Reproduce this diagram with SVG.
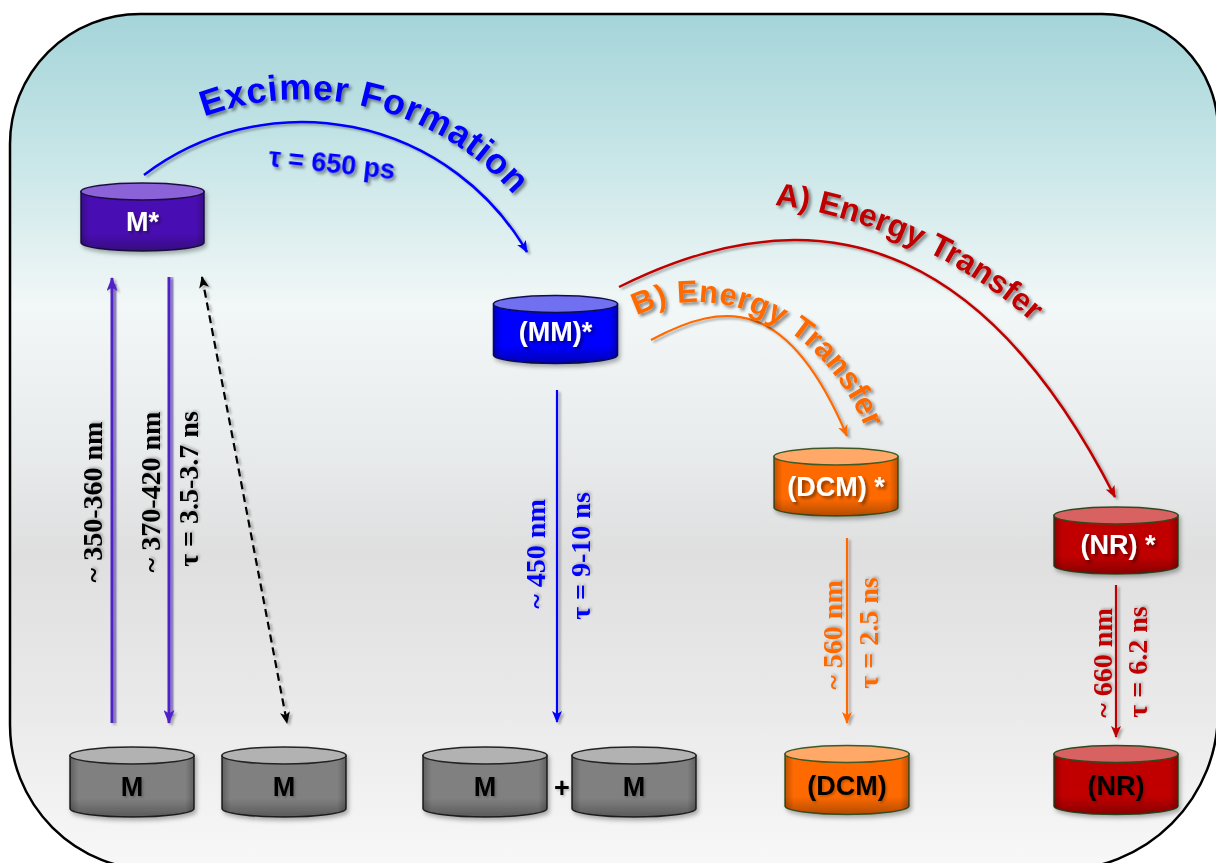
<svg xmlns="http://www.w3.org/2000/svg" width="1216" height="863" viewBox="0 0 1216 863">
<defs>
<style>
.frame{fill:url(#bg);stroke:#000;stroke-width:2.5}
.cb{stroke-width:1.5}
.shade{fill:url(#shadeV);stroke:none}
.shadeh{fill:url(#shadeH);stroke:none}
.lw{font-family:"Liberation Sans",Arial,sans-serif;font-weight:bold;font-size:27px;fill:#fff;text-anchor:middle;dominant-baseline:central;filter:url(#tsh)}
.lk{font-family:"Liberation Sans",Arial,sans-serif;font-weight:bold;font-size:27px;fill:#000;text-anchor:middle;dominant-baseline:central;filter:url(#tsh2)}
.vl{font-family:"Liberation Serif","Times New Roman",serif;font-weight:bold;font-size:28px;text-anchor:middle;dominant-baseline:central;filter:url(#tsh2)}
.arc{font-family:"Liberation Sans",Arial,sans-serif;font-weight:bold;filter:url(#tsh)}
.ln{fill:none;filter:url(#lsh)}
.mstar-b{fill:#4a0db4;stroke:#1d1040}
.mstar-t{fill:#8c62d8;stroke:#1d1040;stroke-width:1.5}
.mm-b{fill:#0000ff;stroke:#101050}
.mm-t{fill:#7070f0;stroke:#101050;stroke-width:1.5}
.dcm-b{fill:#ff6a00;stroke:#3c5a28}
.dcm-t{fill:#ffa868;stroke:#3c5a28;stroke-width:1.5}
.nr-b{fill:#c00000;stroke:#2f4a20}
.nr-t{fill:#d86262;stroke:#2f4a20;stroke-width:1.5}
.m-b{fill:#808080;stroke:#222}
.m-t{fill:#b2b2b2;stroke:#222;stroke-width:1.5}
</style>
<linearGradient id="bg" x1="0" y1="0" x2="0" y2="1">
<stop offset="0" stop-color="#a4d4d9"/>
<stop offset="0.15" stop-color="#c4e4e6"/>
<stop offset="0.34" stop-color="#f2f7f7"/>
<stop offset="0.5" stop-color="#e9eced"/>
<stop offset="0.63" stop-color="#dfdfdf"/>
<stop offset="0.8" stop-color="#e9e9e9"/>
<stop offset="1" stop-color="#f8f8f8"/>
</linearGradient>
<linearGradient id="shadeV" x1="0" y1="0" x2="0" y2="1">
<stop offset="0" stop-color="#000" stop-opacity="0"/>
<stop offset="0.7" stop-color="#000" stop-opacity="0"/>
<stop offset="1" stop-color="#000" stop-opacity="0.3"/>
</linearGradient>
<linearGradient id="shadeH" x1="0" y1="0" x2="1" y2="0">
<stop offset="0" stop-color="#000" stop-opacity="0.25"/>
<stop offset="0.07" stop-color="#000" stop-opacity="0"/>
<stop offset="0.93" stop-color="#000" stop-opacity="0"/>
<stop offset="1" stop-color="#000" stop-opacity="0.25"/>
</linearGradient>
<filter id="tsh" x="-20%" y="-20%" width="140%" height="140%">
<feDropShadow dx="2.5" dy="2.5" stdDeviation="1.5" flood-color="#000" flood-opacity="0.45"/>
</filter>
<filter id="tsh2" x="-20%" y="-20%" width="140%" height="140%">
<feDropShadow dx="1.5" dy="1.5" stdDeviation="1.2" flood-color="#000" flood-opacity="0.25"/>
</filter>
<filter id="lsh" filterUnits="userSpaceOnUse" x="-100" y="-100" width="1420" height="1070">
<feDropShadow dx="2.5" dy="2" stdDeviation="1.2" flood-color="#000" flood-opacity="0.3"/>
</filter>
<filter id="csh" x="-20%" y="-20%" width="140%" height="140%">
<feDropShadow dx="2" dy="3" stdDeviation="2" flood-color="#000" flood-opacity="0.3"/>
</filter>
<marker id="ah-purple" viewBox="0 0 14 11" refX="13" refY="5.5" markerWidth="14" markerHeight="11" orient="auto" markerUnits="userSpaceOnUse"><path d="M0,0 L14,5.5 L0,11 L3.5,5.5 Z" fill="#5020c8"/></marker>
<marker id="ah-black" viewBox="0 0 12 10" refX="11" refY="5" markerWidth="12" markerHeight="10" orient="auto-start-reverse" markerUnits="userSpaceOnUse"><path d="M0,0 L12,5 L0,10 L3,5 Z" fill="#000"/></marker>
<marker id="ah-blue" viewBox="0 0 12 10" refX="11" refY="5" markerWidth="12" markerHeight="10" orient="auto" markerUnits="userSpaceOnUse"><path d="M0,0 L12,5 L0,10 L3,5 Z" fill="#0000ff"/></marker>
<marker id="ah-orange" viewBox="0 0 12 10" refX="11" refY="5" markerWidth="12" markerHeight="10" orient="auto" markerUnits="userSpaceOnUse"><path d="M0,0 L12,5 L0,10 L3,5 Z" fill="#ff6a00"/></marker>
<marker id="ah-red" viewBox="0 0 12 10" refX="11" refY="5" markerWidth="12" markerHeight="10" orient="auto" markerUnits="userSpaceOnUse"><path d="M0,0 L12,5 L0,10 L3,5 Z" fill="#c00000"/></marker>
<path id="tp-exc" d="M182,125.9 A283,283 0 0 1 558.1,262.8"/>
<path id="tp-a" d="M740,206 C800,196 960,240 1060,350"/>
<path id="tp-b" d="M630,320 C690,280 820,300 872,445"/>
</defs>

<path class="frame" d="M140,14 H1102 A116,116 0 0 1 1218,130 V712 A158,158 0 0 1 1060,870 H155 A145,145 0 0 1 10,725 V144 A130,130 0 0 1 140,14 Z"/>

<g id="connectors">
<line x1="115" y1="723" x2="115" y2="284" stroke="#b0a4ea" stroke-width="3"/>
<line class="ln" x1="112" y1="723" x2="112" y2="278" stroke="#5020c8" stroke-width="3" marker-end="url(#ah-purple)"/>
<line x1="172" y1="277" x2="172" y2="716" stroke="#b0a4ea" stroke-width="3"/>
<line class="ln" x1="169" y1="277" x2="169" y2="723" stroke="#5020c8" stroke-width="3" marker-end="url(#ah-purple)"/>
<line class="ln" x1="202" y1="277" x2="287" y2="723" stroke="#000" stroke-width="2.2" stroke-dasharray="8,5" marker-start="url(#ah-black)" marker-end="url(#ah-black)"/>
<path class="ln" d="M144,175 A260.5,260.5 0 0 1 527,252" stroke="#0000ff" stroke-width="2.5" marker-end="url(#ah-blue)"/>
<path class="ln" d="M619,287 C839,177 997,265.6 1115,497" stroke="#c00000" stroke-width="2.5" marker-end="url(#ah-red)"/>
<path class="ln" d="M651,340 C726,299.5 788.5,298 847,436" stroke="#ff6a00" stroke-width="2.2" marker-end="url(#ah-orange)"/>
<line class="ln" x1="557" y1="390" x2="557" y2="722" stroke="#0000ff" stroke-width="2.2" marker-end="url(#ah-blue)"/>
<line class="ln" x1="847" y1="538" x2="847" y2="723" stroke="#ff6a00" stroke-width="2.2" marker-end="url(#ah-orange)"/>
<line class="ln" x1="1116" y1="585" x2="1116" y2="737" stroke="#c00000" stroke-width="2.2" marker-end="url(#ah-red)"/>
</g>

<g id="arc-labels">
<text class="arc" font-size="36" fill="#0000ff" letter-spacing="0.8"><textPath href="#tp-exc" startOffset="24">Excimer Formation</textPath></text>
<text class="arc" font-size="27" fill="#0000ff" transform="rotate(6 268 166)" x="268" y="166">τ = 650 ps</text>
<text class="arc" font-size="32" fill="#c00000"><textPath href="#tp-a" startOffset="35">A) Energy Transfer</textPath></text>
<text class="arc" font-size="31" fill="#ff6a00" letter-spacing="0.5"><textPath href="#tp-b" startOffset="8">B) Energy Transfer</textPath></text>
</g>

<g id="line-labels">
<text class="vl" fill="#000" transform="translate(92 502) rotate(-90)">~ 350-360 nm</text>
<text class="vl" fill="#000" transform="translate(150 492) rotate(-90)">~ 370-420 nm</text>
<text class="vl" fill="#000" transform="translate(188 489) rotate(-90)">τ = 3.5-3.7 ns</text>
<text class="vl" fill="#0000ff" transform="translate(535 554) rotate(-90)">~ 450 nm</text>
<text class="vl" fill="#0000ff" transform="translate(580 556) rotate(-90)">τ = 9-10 ns</text>
<text class="vl" fill="#ff6a00" transform="translate(832 635) rotate(-90)">~ 560 nm</text>
<text class="vl" fill="#ff6a00" transform="translate(868 633) rotate(-90)">τ = 2.5 ns</text>
<text class="vl" fill="#c00000" transform="translate(1102 663) rotate(-90)">~ 660 nm</text>
<text class="vl" fill="#c00000" transform="translate(1137 662) rotate(-90)">τ = 6.2 ns</text>
</g>

<g id="node-mstar" transform="translate(142.5 191.5)" filter="url(#csh)">
<path class="cb mstar-b" d="M-61.5,0 V51 A61.5,8.5 0 0 0 61.5,51 V0 Z"/>
<path class="shade" d="M-61.5,0 V51 A61.5,8.5 0 0 0 61.5,51 V0 Z"/>
<path class="shadeh" d="M-61.5,0 V51 A61.5,8.5 0 0 0 61.5,51 V0 Z"/>
<ellipse class="mstar-t" cx="0" cy="0" rx="61.5" ry="8.5"/>
<text class="lw" x="0" y="30.5">M*</text>
</g>

<g id="node-mmstar" transform="translate(555.5 304)" filter="url(#csh)">
<path class="cb mm-b" d="M-62,0 V51 A62,8.5 0 0 0 62,51 V0 Z"/>
<path class="shade" d="M-62,0 V51 A62,8.5 0 0 0 62,51 V0 Z"/>
<path class="shadeh" d="M-62,0 V51 A62,8.5 0 0 0 62,51 V0 Z"/>
<ellipse class="mm-t" cx="0" cy="0" rx="62" ry="8.5"/>
<text class="lw" x="0" y="28">(MM)*</text>
</g>

<g id="node-dcmstar" transform="translate(836 456.5)" filter="url(#csh)">
<path class="cb dcm-b" d="M-62,0 V51 A62,8.5 0 0 0 62,51 V0 Z"/>
<path class="shade" d="M-62,0 V51 A62,8.5 0 0 0 62,51 V0 Z"/>
<path class="shadeh" d="M-62,0 V51 A62,8.5 0 0 0 62,51 V0 Z"/>
<ellipse class="dcm-t" cx="0" cy="0" rx="62" ry="8.5"/>
<text class="lw" x="0" y="30.5">(DCM) *</text>
</g>

<g id="node-nrstar" transform="translate(1116 515.5)" filter="url(#csh)">
<path class="cb nr-b" d="M-62,0 V50 A62,8.5 0 0 0 62,50 V0 Z"/>
<path class="shade" d="M-62,0 V50 A62,8.5 0 0 0 62,50 V0 Z"/>
<path class="shadeh" d="M-62,0 V50 A62,8.5 0 0 0 62,50 V0 Z"/>
<ellipse class="nr-t" cx="0" cy="0" rx="62" ry="8.5"/>
<text class="lw" x="2" y="29.5">(NR) *</text>
</g>

<g id="node-m1" transform="translate(132 755.5)" filter="url(#csh)">
<path class="cb m-b" d="M-62,0 V53 A62,8.5 0 0 0 62,53 V0 Z"/>
<path class="shade" d="M-62,0 V53 A62,8.5 0 0 0 62,53 V0 Z"/>
<path class="shadeh" d="M-62,0 V53 A62,8.5 0 0 0 62,53 V0 Z"/>
<ellipse class="m-t" cx="0" cy="0" rx="62" ry="8.5"/>
<text class="lk" x="0" y="31.5" font-size="26">M</text>
</g>

<g id="node-m2" transform="translate(284 755.5)" filter="url(#csh)">
<path class="cb m-b" d="M-62,0 V53 A62,8.5 0 0 0 62,53 V0 Z"/>
<path class="shade" d="M-62,0 V53 A62,8.5 0 0 0 62,53 V0 Z"/>
<path class="shadeh" d="M-62,0 V53 A62,8.5 0 0 0 62,53 V0 Z"/>
<ellipse class="m-t" cx="0" cy="0" rx="62" ry="8.5"/>
<text class="lk" x="0" y="31.5" font-size="26">M</text>
</g>

<g id="node-m3" transform="translate(485 755.5)" filter="url(#csh)">
<path class="cb m-b" d="M-62,0 V53 A62,8.5 0 0 0 62,53 V0 Z"/>
<path class="shade" d="M-62,0 V53 A62,8.5 0 0 0 62,53 V0 Z"/>
<path class="shadeh" d="M-62,0 V53 A62,8.5 0 0 0 62,53 V0 Z"/>
<ellipse class="m-t" cx="0" cy="0" rx="62" ry="8.5"/>
<text class="lk" x="0" y="31.5" font-size="26">M</text>
</g>

<g id="plus">
<text class="lk" x="562" y="788" font-size="26">+</text>
</g>

<g id="node-m4" transform="translate(634 755.5)" filter="url(#csh)">
<path class="cb m-b" d="M-62,0 V53 A62,8.5 0 0 0 62,53 V0 Z"/>
<path class="shade" d="M-62,0 V53 A62,8.5 0 0 0 62,53 V0 Z"/>
<path class="shadeh" d="M-62,0 V53 A62,8.5 0 0 0 62,53 V0 Z"/>
<ellipse class="m-t" cx="0" cy="0" rx="62" ry="8.5"/>
<text class="lk" x="0" y="31.5" font-size="26">M</text>
</g>

<g id="node-dcm" transform="translate(847 754)" filter="url(#csh)">
<path class="cb dcm-b" d="M-62,0 V52 A62,8.5 0 0 0 62,52 V0 Z"/>
<path class="shade" d="M-62,0 V52 A62,8.5 0 0 0 62,52 V0 Z"/>
<path class="shadeh" d="M-62,0 V52 A62,8.5 0 0 0 62,52 V0 Z"/>
<ellipse class="dcm-t" cx="0" cy="0" rx="62" ry="8.5"/>
<text class="lk" x="0" y="32">(DCM)</text>
</g>

<g id="node-nr" transform="translate(1116 754)" filter="url(#csh)">
<path class="cb nr-b" d="M-62,0 V52 A62,8.5 0 0 0 62,52 V0 Z"/>
<path class="shade" d="M-62,0 V52 A62,8.5 0 0 0 62,52 V0 Z"/>
<path class="shadeh" d="M-62,0 V52 A62,8.5 0 0 0 62,52 V0 Z"/>
<ellipse class="nr-t" cx="0" cy="0" rx="62" ry="8.5"/>
<text class="lk" x="0" y="32">(NR)</text>
</g>
</svg>
